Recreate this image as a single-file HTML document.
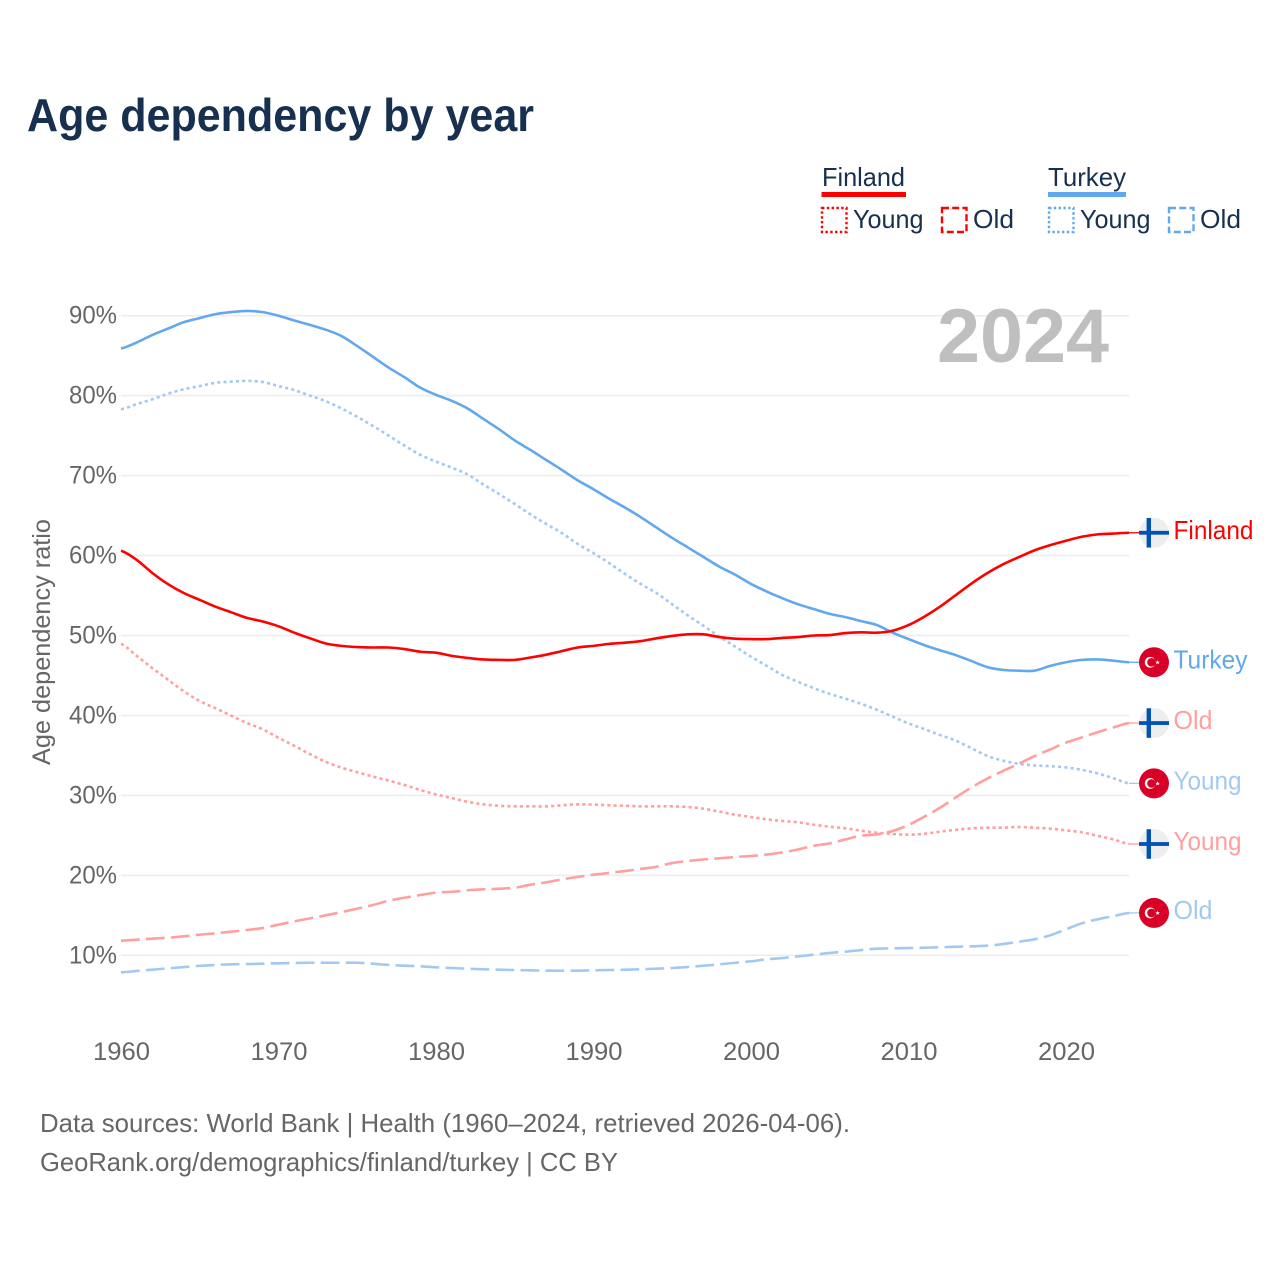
<!DOCTYPE html>
<html lang="en">
<head>
<meta charset="utf-8">
<title>Age dependency by year</title>
<style>
html,body{margin:0;padding:0;background:#fff;width:1280px;height:1280px;overflow:hidden}
svg{display:block}
text{font-family:"Liberation Sans",sans-serif}
</style>
</head>
<body>
<svg id="chart" xmlns="http://www.w3.org/2000/svg" width="1280" height="1280" viewBox="0 0 1280 1280">
  <rect x="0" y="0" width="1280" height="1280" fill="#fff"/>
  <text x="27" y="131" font-size="46" font-weight="700" fill="#17304f" textLength="507" lengthAdjust="spacingAndGlyphs">Age dependency by year</text>

  <g font-size="26" fill="#17304f">
    <text x="822" y="186" textLength="83" lengthAdjust="spacingAndGlyphs">Finland</text>
    <rect x="821.5" y="192" width="84.5" height="5" fill="#ff0000"/>
    <rect x="822" y="208" width="24.5" height="24" fill="none" stroke="#ff0000" stroke-width="2.4" stroke-dasharray="2.4 2.4"/>
    <text x="853" y="228" textLength="70.5" lengthAdjust="spacingAndGlyphs">Young</text>
    <rect x="942" y="208" width="24.5" height="24" fill="none" stroke="#ff0000" stroke-width="2.4" stroke-dasharray="7 3.2"/>
    <text x="973" y="228" textLength="41" lengthAdjust="spacingAndGlyphs">Old</text>

    <text x="1048" y="186" textLength="78" lengthAdjust="spacingAndGlyphs">Turkey</text>
    <rect x="1048" y="192" width="78" height="5" fill="#62a8ee"/>
    <rect x="1049" y="208" width="24.5" height="24" fill="none" stroke="#62a8ee" stroke-width="2.4" stroke-dasharray="2.4 2.4"/>
    <text x="1080" y="228" textLength="70.5" lengthAdjust="spacingAndGlyphs">Young</text>
    <rect x="1169" y="208" width="24.5" height="24" fill="none" stroke="#62a8ee" stroke-width="2.4" stroke-dasharray="7 3.2"/>
    <text x="1200" y="228" textLength="41" lengthAdjust="spacingAndGlyphs">Old</text>
  </g>

  <g id="grid"></g>
  <g id="yticks"></g>
  <g id="xticks"></g>
  <text transform="translate(50,642) rotate(-90)" text-anchor="middle" font-size="25" fill="#666666" textLength="246" lengthAdjust="spacingAndGlyphs">Age dependency ratio</text>
  <text x="937" y="362" font-size="76" font-weight="700" fill="#bfbfbf" textLength="172" lengthAdjust="spacingAndGlyphs">2024</text>
  <g id="series"></g>
  <g id="endlabels"></g>

  <g font-size="26" fill="#666666">
    <text x="40" y="1132" textLength="810" lengthAdjust="spacingAndGlyphs">Data sources: World Bank | Health (1960–2024, retrieved 2026-04-06).</text>
    <text x="40" y="1171" textLength="578" lengthAdjust="spacingAndGlyphs">GeoRank.org/demographics/finland/turkey | CC BY</text>
  </g>
</svg>
<script>
const years = [1960,1961,1962,1963,1964,1965,1966,1967,1968,1969,1970,1971,1972,1973,1974,1975,1976,1977,1978,1979,1980,1981,1982,1983,1984,1985,1986,1987,1988,1989,1990,1991,1992,1993,1994,1995,1996,1997,1998,1999,2000,2001,2002,2003,2004,2005,2006,2007,2008,2009,2010,2011,2012,2013,2014,2015,2016,2017,2018,2019,2020,2021,2022,2023,2024];
const finlandTotal = [60.6,59.45,57.8,56.4,55.3,54.45,53.6,52.9,52.2,51.75,51.15,50.35,49.65,49.0,48.7,48.55,48.5,48.5,48.3,47.97,47.85,47.45,47.2,47.0,46.95,46.95,47.25,47.6,48.05,48.5,48.7,48.95,49.1,49.3,49.65,49.95,50.15,50.15,49.8,49.6,49.55,49.55,49.7,49.8,50.0,50.05,50.3,50.4,50.35,50.6,51.3,52.35,53.6,55.05,56.5,57.8,58.9,59.8,60.65,61.3,61.85,62.35,62.65,62.75,62.85];
const turkeyTotal = [85.9,86.65,87.6,88.4,89.2,89.7,90.2,90.45,90.6,90.45,90.0,89.4,88.85,88.25,87.45,86.2,84.85,83.5,82.3,81.0,80.1,79.35,78.4,77.1,75.8,74.4,73.2,71.95,70.7,69.4,68.3,67.1,66.0,64.8,63.5,62.2,61.0,59.8,58.6,57.6,56.45,55.5,54.65,53.9,53.3,52.7,52.3,51.8,51.3,50.35,49.55,48.8,48.15,47.55,46.8,46.05,45.7,45.6,45.6,46.2,46.65,46.95,47.0,46.85,46.65];
const finlandYoung = [48.95,47.45,45.9,44.45,43.0,41.8,40.9,39.97,39.05,38.27,37.2,36.2,35.15,34.2,33.47,32.9,32.35,31.85,31.3,30.68,30.13,29.67,29.2,28.88,28.7,28.63,28.63,28.63,28.76,28.88,28.84,28.76,28.7,28.63,28.63,28.63,28.55,28.33,27.96,27.58,27.3,27.0,26.8,26.63,26.33,26.08,25.88,25.58,25.33,25.17,25.09,25.2,25.46,25.7,25.88,25.96,25.96,26.05,25.96,25.84,25.63,25.38,24.95,24.5,23.92];
const finlandOld = [11.83,11.95,12.08,12.2,12.37,12.58,12.75,12.95,13.16,13.41,13.83,14.25,14.62,15.0,15.4,15.83,16.29,16.83,17.2,17.54,17.83,17.95,18.13,18.25,18.33,18.45,18.83,19.13,19.5,19.8,20.08,20.3,20.54,20.8,21.08,21.54,21.8,22.0,22.13,22.3,22.42,22.6,22.87,23.25,23.7,24.0,24.5,24.95,25.13,25.55,26.3,27.33,28.45,29.75,31.0,32.1,33.05,33.96,34.9,35.75,36.6,37.25,37.9,38.5,39.05];
const turkeyYoung = [78.3,78.95,79.55,80.25,80.8,81.2,81.6,81.75,81.85,81.7,81.2,80.7,80.0,79.3,78.4,77.35,76.2,75.0,73.75,72.6,71.75,71.0,70.15,68.9,67.7,66.45,65.15,63.95,62.8,61.45,60.3,59.05,57.7,56.45,55.3,53.9,52.5,51.2,49.85,48.6,47.35,46.2,45.05,44.2,43.4,42.7,42.1,41.45,40.7,39.85,39.0,38.3,37.55,36.85,35.9,34.95,34.35,33.95,33.75,33.65,33.5,33.2,32.75,32.15,31.5];
const turkeyOld = [7.87,8.04,8.2,8.37,8.53,8.68,8.79,8.87,8.9,8.95,9.0,9.04,9.07,9.07,9.07,9.07,8.95,8.79,8.7,8.62,8.5,8.41,8.33,8.25,8.2,8.16,8.12,8.08,8.08,8.08,8.12,8.16,8.2,8.25,8.33,8.41,8.54,8.7,8.87,9.07,9.25,9.5,9.66,9.87,10.08,10.29,10.45,10.66,10.83,10.87,10.91,10.95,11.0,11.08,11.12,11.2,11.41,11.7,12.0,12.5,13.25,14.0,14.5,14.9,15.3];
const yTickValues = [10,20,30,40,50,60,70,80,90];
const yTickLabels = ["10%","20%","30%","40%","50%","60%","70%","80%","90%"];
const xTickValues = [1960,1970,1980,1990,2000,2010,2020];
const xTickLabels = ["1960","1970","1980","1990","2000","2010","2020"];

const NS = "http://www.w3.org/2000/svg";
function xScale(year){ return 121 + (year - 1960) * (1008 / 64); }
function yScale(v){ return 955.3 - (v - 10) * 7.995; }

const gridGroup = document.getElementById("grid");
const yTickGroup = document.getElementById("yticks");
yTickValues.forEach(function(v, i){
  const line = document.createElementNS(NS, "line");
  
  
  line.setAttribute("x1", 121);
  line.setAttribute("x2", 1129);
  line.setAttribute("y1", yScale(v));
  line.setAttribute("y2", yScale(v));
  line.setAttribute("stroke", "#ececec");
  line.setAttribute("stroke-width", 1.5);
  gridGroup.appendChild(line);

  const label = document.createElementNS(NS, "text");
  
  
  label.setAttribute("x", 117);
  label.setAttribute("y", yScale(v) + 8);
  label.setAttribute("text-anchor", "end");
  label.setAttribute("font-size", 25);
  label.setAttribute("fill", "#666666");
  label.setAttribute("textLength", 48);
  label.setAttribute("lengthAdjust", "spacingAndGlyphs");
  label.textContent = yTickLabels[i];
  yTickGroup.appendChild(label);
});

const xTickGroup = document.getElementById("xticks");
xTickValues.forEach(function(year, i){
  const label = document.createElementNS(NS, "text");
  
  
  label.setAttribute("x", xScale(year) + 0.5);
  label.setAttribute("y", 1060);
  label.setAttribute("text-anchor", "middle");
  label.setAttribute("font-size", 25);
  label.setAttribute("fill", "#666666");
  label.setAttribute("textLength", 57);
  label.setAttribute("lengthAdjust", "spacingAndGlyphs");
  label.textContent = xTickLabels[i];
  xTickGroup.appendChild(label);
});

function pathFrom(values){
  const pts = values.map(function(v, i){ return [xScale(years[i]), yScale(v)]; });
  let d = "M" + pts[0][0].toFixed(2) + " " + pts[0][1].toFixed(2);
  for (let i = 0; i < pts.length - 1; i++) {
    const prev = pts[Math.max(i - 1, 0)];
    const cur = pts[i];
    const next = pts[i + 1];
    const after = pts[Math.min(i + 2, pts.length - 1)];
    const c1y = cur[1] + (next[1] - prev[1]) / 6;
    const c2y = next[1] - (after[1] - cur[1]) / 6;
    const dx = (next[0] - cur[0]) / 3;
    d += " C" + (cur[0] + dx).toFixed(2) + " " + c1y.toFixed(2) + " " + (next[0] - dx).toFixed(2) + " " + c2y.toFixed(2) + " " + next[0].toFixed(2) + " " + next[1].toFixed(2);
  }
  return d;
}

const seriesGroup = document.getElementById("series");
function drawLine(values, color, dash, name){
  const p = document.createElementNS(NS, "path");
  
  
  p.setAttribute("d", pathFrom(values));
  p.setAttribute("fill", "none");
  p.setAttribute("stroke", color);
  p.setAttribute("stroke-width", 2.6);
  p.setAttribute("stroke-linejoin", "round");
  if (dash) p.setAttribute("stroke-dasharray", dash);
  seriesGroup.appendChild(p);

  const tail = document.createElementNS(NS, "line");
  
  
  tail.setAttribute("x1", xScale(2024));
  tail.setAttribute("x2", 1140);
  tail.setAttribute("y1", yScale(values[values.length - 1]));
  tail.setAttribute("y2", yScale(values[values.length - 1]));
  tail.setAttribute("stroke", color);
  tail.setAttribute("stroke-width", 1.3);
  seriesGroup.appendChild(tail);
}
const DOTS = "3.1 3.15";
const DASHES = "18.75 6.25";
drawLine(turkeyOld, "#a3c9f1", DASHES, "turkey-old-line");
drawLine(finlandOld, "#ff9f9f", DASHES, "finland-old-line");
drawLine(finlandYoung, "#ff9f9f", DOTS, "finland-young-line");
drawLine(turkeyYoung, "#a3c9f1", DOTS, "turkey-young-line");
drawLine(turkeyTotal, "#62a8ee", null, "turkey-total-line");
drawLine(finlandTotal, "#ff0000", null, "finland-total-line");

const endGroup = document.getElementById("endlabels");
function drawFinlandFlag(cy){
  const g = document.createElementNS(NS, "g");
  
  
  g.setAttribute("transform", "translate(1154," + cy + ")");
  g.innerHTML = '<circle r="15" fill="#eeeeee"/><rect x="-15" y="-1.9" width="30" height="3.8" fill="#0052b4"/><rect x="-7.4" y="-14.8" width="4.4" height="29.6" fill="#0052b4"/>';
  endGroup.appendChild(g);
}
function drawTurkeyFlag(cy){
  const g = document.createElementNS(NS, "g");
  
  
  g.setAttribute("transform", "translate(1154," + cy + ")");
  g.innerHTML = '<circle r="15" fill="#d80027"/><circle cx="-3.8" cy="0" r="5.4" fill="#ffffff"/><circle cx="-2.5" cy="0" r="4.3" fill="#d80027"/><polygon points="3.6,-2 4.3,-0.5 5.9,-0.5 4.6,0.5 5.1,2 3.6,1.1 2.1,2 2.6,0.5 1.3,-0.5 2.9,-0.5" fill="#ffffff"/>';
  endGroup.appendChild(g);
}
function drawEndLabel(text, values, color, width, name){
  const label = document.createElementNS(NS, "text");
  
  
  label.setAttribute("x", 1173.5);
  label.setAttribute("y", yScale(values[values.length - 1]) + 6);
  label.setAttribute("font-size", 26);
  label.setAttribute("fill", color);
  label.setAttribute("textLength", width);
  label.setAttribute("lengthAdjust", "spacingAndGlyphs");
  label.textContent = text;
  endGroup.appendChild(label);
}
function last(values){ return yScale(values[values.length - 1]); }
drawFinlandFlag(last(finlandTotal));
drawEndLabel("Finland", finlandTotal, "#ff0000", 80, "finland-end-label");
drawTurkeyFlag(last(turkeyTotal));
drawEndLabel("Turkey", turkeyTotal, "#62a8ee", 74, "turkey-end-label");
drawFinlandFlag(last(finlandOld));
drawEndLabel("Old", finlandOld, "#ff9f9f", 39, "finland-old-end-label");
drawTurkeyFlag(last(turkeyYoung));
drawEndLabel("Young", turkeyYoung, "#a3c9f1", 68, "turkey-young-end-label");
drawFinlandFlag(last(finlandYoung));
drawEndLabel("Young", finlandYoung, "#ff9f9f", 68, "finland-young-end-label");
drawTurkeyFlag(last(turkeyOld));
drawEndLabel("Old", turkeyOld, "#a3c9f1", 39, "turkey-old-end-label");
</script>
</body>
</html>
